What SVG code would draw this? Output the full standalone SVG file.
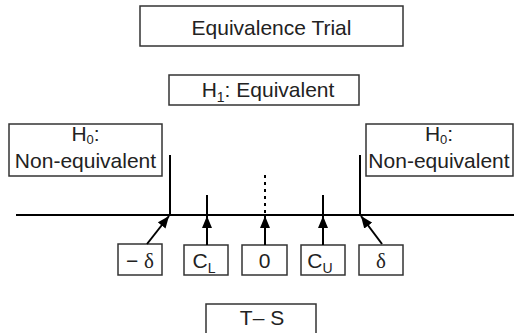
<svg xmlns="http://www.w3.org/2000/svg" width="514" height="333" viewBox="0 0 514 333">
<style>
.box{fill:#fff;stroke:#333;stroke-width:1.5}
.t{font-family:"Liberation Sans",Arial,sans-serif;font-size:21px;fill:#222;text-anchor:middle}
.sub{font-size:14px}
.sub0{font-size:13px}
.sym{font-family:"Liberation Serif","Times New Roman",serif}
.ln{stroke:#000;stroke-width:2;fill:none}
</style>
<defs>
<marker id="ah" markerUnits="userSpaceOnUse" markerWidth="12" markerHeight="10" refX="12" refY="5" orient="auto">
<path d="M0,0 L12,5 L0,10 Z" fill="#000"/>
</marker>
</defs>
<g id="title"><rect class="box" x="140" y="6" width="263" height="40"/><text class="t" x="271.5" y="35">Equivalence Trial</text></g>
<g id="h1"><rect class="box" x="169" y="75" width="190" height="30"/><text class="t" x="268" y="97">H<tspan class="sub" dy="5">1</tspan><tspan dy="-5">: Equivalent</tspan></text></g>
<g id="h0-left"><rect class="box" x="9" y="124" width="153" height="52"/><text class="t" x="85.5" y="141">H<tspan class="sub0" dy="3">0</tspan><tspan dy="-3">:</tspan></text><text class="t" x="85.5" y="168">Non-equivalent</text></g>
<g id="h0-right"><rect class="box" x="366" y="124" width="147" height="52"/><text class="t" x="439" y="141">H<tspan class="sub0" dy="3">0</tspan><tspan dy="-3">:</tspan></text><text class="t" x="439" y="168">Non-equivalent</text></g>
<g id="minus-delta"><rect class="box" x="118" y="244" width="44" height="31"/><text class="t" x="140" y="268">− <tspan class="sym">δ</tspan></text></g>
<g id="cl"><rect class="box" x="184" y="245" width="44" height="30"/><text class="t" x="204" y="268">C<tspan class="sub" dy="5">L</tspan></text></g>
<g id="zero"><rect class="box" x="242" y="245" width="45" height="30"/><text class="t" x="264.5" y="268">0</text></g>
<g id="cu"><rect class="box" x="301" y="245" width="44" height="30"/><text class="t" x="320" y="268">C<tspan class="sub" dy="5">U</tspan></text></g>
<g id="delta"><rect class="box" x="359" y="245" width="44" height="30"/><text class="t sym" x="381" y="268">δ</text></g>
<g id="ts"><rect class="box" x="206" y="304" width="110" height="35"/><text class="t" x="262" y="325">T– S</text></g>
<g id="connectors">
<line class="ln" x1="16" y1="215" x2="514" y2="215" stroke-width="2.5"/>
<line class="ln" x1="170" y1="155" x2="170" y2="215"/>
<line class="ln" x1="207" y1="195" x2="207" y2="215"/>
<line class="ln" x1="265" y1="175" x2="265" y2="215" stroke-dasharray="3,4"/>
<line class="ln" x1="323" y1="195" x2="323" y2="215"/>
<line class="ln" x1="360" y1="155" x2="360" y2="215"/>
<line class="ln" stroke-width="1.5" x1="147" y1="244" x2="169" y2="216" marker-end="url(#ah)"/>
<line class="ln" stroke-width="1.5" x1="207" y1="245" x2="207" y2="216" marker-end="url(#ah)"/>
<line class="ln" stroke-width="1.5" x1="265" y1="245" x2="265" y2="216" marker-end="url(#ah)"/>
<line class="ln" stroke-width="1.5" x1="323" y1="245" x2="323" y2="216" marker-end="url(#ah)"/>
<line class="ln" stroke-width="1.5" x1="382" y1="244" x2="361" y2="216" marker-end="url(#ah)"/>
</g>
</svg>
